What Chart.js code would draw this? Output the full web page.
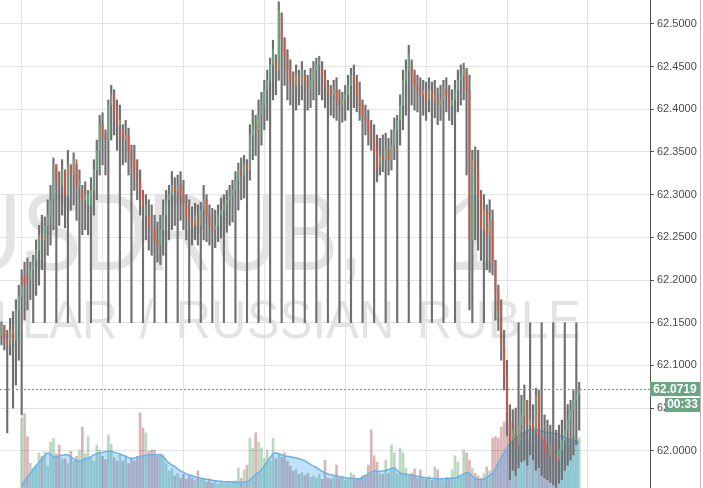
<!DOCTYPE html>
<html>
<head>
<meta charset="utf-8">
<title>USDRUB, 1</title>
<script src="https://cdn.jsdelivr.net/npm/chart.js@4.4.1/dist/chart.umd.min.js"></script>
<style>
    html, body { margin: 0; padding: 0; background: #ffffff; }
    #wrap { position: relative; width: 703px; height: 488px; overflow: hidden; }
</style>
</head>
<body>
<div id="wrap"><canvas id="chart" width="703" height="488"></canvas></div>
<script>
// --- data (1 minute candles, USDRUB) ---
const highs = [
    62.151,62.147,62.141,62.155,62.163,62.177,62.194,62.212,62.221,62.226,
    62.221,62.229,62.247,62.264,62.276,62.274,62.294,62.311,62.343,62.335,
    62.327,62.341,62.329,62.352,62.335,62.349,62.335,62.329,62.311,62.315,
    62.305,62.320,62.341,62.364,62.393,62.396,62.376,62.411,62.428,62.423,
    62.411,62.405,62.382,62.387,62.378,62.358,62.358,62.341,62.329,62.305,
    62.300,62.294,62.288,62.276,62.268,62.276,62.294,62.305,62.311,62.327,
    62.320,62.323,62.327,62.317,62.300,62.294,62.286,62.290,62.288,62.291,
    62.311,62.300,62.288,62.284,62.282,62.288,62.296,62.300,62.305,62.311,
    62.317,62.327,62.337,62.343,62.346,62.341,62.382,62.399,62.393,62.411,
    62.420,62.434,62.446,62.460,62.481,62.464,62.526,62.513,62.484,62.470,
    62.458,62.444,62.452,62.446,62.456,62.446,62.440,62.448,62.456,62.460,
    62.462,62.456,62.446,62.434,62.428,62.434,62.437,62.423,62.420,62.428,
    62.440,62.448,62.452,62.440,62.432,62.411,62.405,62.399,62.387,62.382,
    62.370,62.366,62.370,62.372,62.366,62.376,62.390,62.393,62.417,62.446,
    62.458,62.475,62.458,62.446,62.440,62.437,62.434,62.432,62.437,62.432,
    62.434,62.425,62.428,62.434,62.437,62.428,62.423,62.434,62.446,62.452,
    62.454,62.448,62.440,62.352,62.356,62.352,62.305,62.300,62.288,62.294,
    62.282,62.223,62.194,62.177,62.141,62.106,62.054,62.048,62.050,62.150,
    62.065,62.077,62.059,62.150,62.054,62.073,62.071,62.150,62.042,62.036,
    62.030,62.150,62.024,62.030,62.036,62.150,62.054,62.059,62.071,62.150,
    62.080
];
const lows = [
    62.124,62.118,62.021,62.112,62.050,62.077,62.106,62.042,62.153,62.165,
    62.177,62.150,62.182,62.194,62.212,62.150,62.229,62.241,62.259,62.150,
    62.264,62.276,62.261,62.150,62.282,62.288,62.270,62.150,62.253,62.259,
    62.253,62.150,62.276,62.294,62.323,62.335,62.323,62.150,62.364,62.370,
    62.352,62.150,62.335,62.338,62.323,62.150,62.305,62.294,62.276,62.150,
    62.247,62.235,62.229,62.150,62.221,62.218,62.229,62.150,62.247,62.259,
    62.264,62.150,62.270,62.259,62.247,62.150,62.241,62.247,62.241,62.150,
    62.247,62.245,62.241,62.150,62.238,62.245,62.249,62.150,62.256,62.264,
    62.268,62.150,62.282,62.294,62.296,62.150,62.317,62.341,62.346,62.150,
    62.358,62.376,62.387,62.150,62.411,62.417,62.434,62.150,62.428,62.411,
    62.405,62.150,62.399,62.405,62.411,62.150,62.399,62.402,62.411,62.150,
    62.417,62.411,62.402,62.150,62.393,62.390,62.387,62.150,62.385,62.387,
    62.399,62.150,62.402,62.397,62.387,62.150,62.370,62.358,62.352,62.150,
    62.315,62.323,62.327,62.150,62.323,62.329,62.341,62.150,62.358,62.376,
    62.393,62.150,62.405,62.399,62.397,62.150,62.393,62.387,62.397,62.150,
    62.390,62.382,62.387,62.150,62.397,62.387,62.382,62.150,62.397,62.405,
    62.411,62.323,62.165,62.150,62.247,62.235,62.223,62.150,62.212,62.209,
    62.206,62.153,62.141,62.106,62.071,62.018,61.966,61.977,61.971,61.980,
    61.987,61.989,61.983,61.995,61.989,61.977,61.980,61.971,61.968,61.966,
    61.963,61.960,61.957,61.962,61.966,61.977,61.983,61.989,61.995,62.007,
    62.024
];
const opens = [
    62.136,62.147,62.130,62.124,62.141,62.130,62.165,62.182,62.206,62.206,
    62.200,62.212,62.223,62.235,62.253,62.247,62.264,62.276,62.294,62.335,
    62.317,62.311,62.329,62.300,62.335,62.323,62.341,62.311,62.305,62.294,
    62.288,62.288,62.305,62.329,62.352,62.382,62.370,62.364,62.405,62.417,
    62.399,62.382,62.376,62.364,62.370,62.352,62.341,62.329,62.317,62.300,
    62.276,62.276,62.264,62.259,62.247,62.241,62.259,62.276,62.294,62.300,
    62.311,62.305,62.311,62.300,62.288,62.276,62.270,62.264,62.276,62.264,
    62.282,62.294,62.276,62.264,62.259,62.264,62.276,62.282,62.288,62.294,
    62.300,62.305,62.317,62.329,62.323,62.335,62.329,62.370,62.382,62.376,
    62.393,62.405,62.423,62.434,62.452,62.458,62.446,62.511,62.481,62.464,
    62.446,62.434,62.428,62.440,62.428,62.440,62.434,62.423,62.434,62.446,
    62.452,62.446,62.440,62.428,62.423,62.417,62.423,62.411,62.405,62.411,
    62.417,62.428,62.440,62.434,62.417,62.405,62.393,62.387,62.376,62.364,
    62.352,62.335,62.346,62.341,62.352,62.341,62.358,62.376,62.387,62.405,
    62.434,62.446,62.452,62.440,62.428,62.423,62.417,62.423,62.411,62.423,
    62.411,62.417,62.405,62.411,62.423,62.417,62.405,62.411,62.423,62.434,
    62.440,62.446,62.423,62.247,62.341,62.329,62.300,62.259,62.282,62.253,
    62.270,62.223,62.188,62.165,62.124,62.089,62.036,62.012,62.024,62.007,
    62.030,62.042,62.059,62.030,62.036,62.024,62.065,62.018,62.012,62.001,
    61.995,62.007,61.995,61.989,62.001,62.012,62.024,62.036,62.048,62.059,
    62.065
];
const closes = [
    62.147,62.130,62.124,62.141,62.130,62.165,62.182,62.194,62.194,62.200,
    62.212,62.223,62.235,62.253,62.247,62.264,62.276,62.294,62.335,62.317,
    62.311,62.329,62.300,62.335,62.323,62.341,62.311,62.317,62.294,62.300,
    62.300,62.305,62.329,62.352,62.382,62.370,62.364,62.405,62.417,62.399,
    62.382,62.387,62.364,62.370,62.352,62.341,62.329,62.317,62.300,62.288,
    62.288,62.264,62.259,62.247,62.241,62.259,62.276,62.294,62.300,62.311,
    62.305,62.311,62.300,62.288,62.276,62.270,62.264,62.276,62.264,62.282,
    62.294,62.276,62.264,62.259,62.264,62.276,62.282,62.288,62.294,62.300,
    62.305,62.317,62.329,62.323,62.335,62.329,62.370,62.382,62.376,62.393,
    62.405,62.423,62.434,62.452,62.470,62.446,62.516,62.481,62.464,62.446,
    62.434,62.428,62.440,62.428,62.446,62.434,62.423,62.434,62.446,62.452,
    62.458,62.440,62.428,62.423,62.417,62.423,62.411,62.405,62.411,62.417,
    62.428,62.440,62.434,62.417,62.405,62.393,62.387,62.376,62.364,62.352,
    62.329,62.346,62.341,62.352,62.341,62.358,62.376,62.387,62.405,62.434,
    62.446,62.464,62.440,62.428,62.423,62.417,62.423,62.411,62.423,62.411,
    62.417,62.405,62.411,62.423,62.417,62.405,62.411,62.423,62.434,62.440,
    62.446,62.423,62.247,62.341,62.329,62.300,62.259,62.282,62.253,62.270,
    62.223,62.188,62.165,62.124,62.089,62.036,62.012,62.024,62.007,62.030,
    62.042,62.059,62.030,62.036,62.024,62.065,62.018,62.012,62.001,61.995,
    62.007,61.995,61.989,62.001,62.012,62.024,62.036,62.048,62.059,62.065,
    62.0719
];
// volume bars (relative units) and their moving average
const volumes = [
    null,null,null,null,null,null,null,14.3,15.2,10.5,
    5.1,4.1,4.5,7.2,6.5,7.4,4.5,9.4,10.2,7.0,
    8.8,6.0,6.0,5.0,7.5,5.5,6.5,7.8,12.5,7.0,
    10.5,6.0,5.5,8.8,7.8,6.5,5.8,10.9,9.0,6.2,
    5.5,6.8,5.5,6.5,5.0,6.0,5.5,6.5,15.4,12.3,
    11.3,7.5,7.8,7.8,6.5,7.0,6.8,5.0,3.5,4.0,
    2.5,3.0,2.0,2.8,1.8,2.5,2.0,1.5,3.5,1.8,
    1.8,1.2,1.9,1.0,1.5,0.8,1.2,0.9,1.4,1.0,
    1.3,1.5,4.1,2.0,3.7,4.7,10.2,8.2,11.3,9.4,
    8.2,6.0,7.8,5.5,10.2,6.0,7.0,6.3,7.2,5.5,
    4.5,3.5,3.8,2.8,3.2,2.5,3.0,2.2,2.5,2.0,
    2.8,1.8,5.7,2.0,1.8,2.2,4.7,2.0,2.5,1.6,
    1.8,3.1,2.6,2.0,1.8,2.5,2.5,4.7,11.9,6.6,
    5.3,3.0,2.8,5.7,3.0,8.8,7.2,3.0,8.2,7.2,
    4.0,2.5,3.0,3.9,2.0,3.7,2.2,1.8,2.5,1.6,
    4.3,3.7,2.0,1.5,2.2,1.8,3.7,6.6,5.3,2.5,
    7.8,7.2,5.7,4.0,3.0,2.5,2.0,3.0,4.3,3.5,
    10.2,10.5,10.2,12.5,13.5,15.4,13.0,13.9,11.0,10.5,
    9.5,11.5,10.0,9.0,10.8,12.5,11.0,9.5,10.0,9.0,
    10.5,9.8,10.0,8.5,9.5,9.0,10.2,9.5,10.5,9.8,
    10.3
];
const volMA = [
    null,null,null,null,null,null,null,0.4,1.4,2.3,
    3.1,3.8,4.6,5.3,6.0,6.6,7.2,6.9,6.4,6.3,
    6.6,6.7,6.8,6.8,6.4,6.0,5.6,5.5,5.7,6.0,
    6.1,6.4,6.8,7.0,7.2,7.3,7.5,7.6,7.5,7.3,
    7.2,7.0,6.7,6.5,6.2,6.1,6.1,6.3,6.5,6.6,
    6.7,6.8,6.8,6.8,6.8,6.8,6.4,5.7,5.1,4.7,
    4.4,3.9,3.5,3.2,2.9,2.7,2.5,2.3,2.1,2.0,
    1.9,1.8,1.7,1.6,1.5,1.4,1.4,1.3,1.3,1.3,
    1.3,1.2,1.2,1.2,1.2,1.3,1.7,2.2,2.8,3.2,
    3.7,4.5,5.4,6.2,7.0,7.2,7.0,6.8,6.6,6.5,
    6.4,6.3,6.2,6.0,5.8,5.6,5.2,4.8,4.5,4.2,
    3.8,3.4,3.1,2.9,2.7,2.6,2.5,2.3,2.2,2.1,
    2.0,2.0,1.9,1.9,1.9,2.2,2.6,2.9,3.3,3.5,
    3.5,3.4,3.5,3.6,3.8,4.0,4.1,3.6,3.1,2.9,
    2.8,2.7,2.6,2.5,2.4,2.3,2.2,2.1,2.0,2.0,
    1.9,1.9,1.9,1.9,1.9,2.0,2.0,2.0,2.3,2.6,
    2.9,3.1,3.0,2.4,1.9,1.8,1.7,1.8,2.2,2.6,
    3.1,4.0,5.2,6.2,7.3,8.2,9.0,9.6,10.2,10.7,
    11.1,11.4,11.7,11.9,12.0,12.0,11.9,11.7,11.5,11.4,
    11.3,11.2,11.1,10.9,10.6,10.3,10.1,9.9,9.8,9.6,
    9.5
];
const priceTicks = [62.0, 62.05, 62.1, 62.15, 62.2, 62.25, 62.3, 62.35, 62.4, 62.45, 62.5];
const SLOTS = 225;               // visible bar slots (empty ones on the right)
const Y_MIN = 61.9563, Y_MAX = 62.5281;
const TITLE = 'USDRUB, 1';
const SUBTITLE = 'U.S. DOLLAR / RUSSIAN RUBLE';
const COUNTDOWN = '00:33';

// colours
const GREEN = '#6ba583';
const RED = '#d75442';
const WICK = '#707070';
const GRID = '#e3e3e3';
const FONT = '"Liberation Sans", Arial, sans-serif';

const labels = Array.from({ length: SLOTS }, (_, i) => String(i));
const isUp = closes.map((c, i) => c >= opens[i]);

// big faded symbol name behind the candles
const watermark = {
    id: 'watermark',
    beforeDraw(chart) {
        const { ctx, chartArea } = chart;
        ctx.save();
        ctx.beginPath();
        ctx.rect(chartArea.left, chartArea.top, chartArea.right - chartArea.left, chartArea.bottom - chartArea.top);
        ctx.clip();
        ctx.fillStyle = 'rgba(0,0,0,0.11)';
        ctx.textAlign = 'right';
        ctx.textBaseline = 'alphabetic';

        // TV watermark font is narrower than Arial but has wider spaces
        ctx.save();
        ctx.translate(497, 270);
        ctx.scale(0.83, 1);
        ctx.font = '109px ' + FONT;
        ctx.wordSpacing = '70px';
        ctx.fillText(TITLE, 0, 0);
        ctx.restore();

        ctx.save();
        ctx.translate(581, 338);
        ctx.scale(0.93, 1);
        ctx.font = '53px ' + FONT;
        ctx.wordSpacing = '9px';
        ctx.fillText(SUBTITLE, 0, 0);
        ctx.restore();
        ctx.restore();
    }
};

// last price line + labels on the price scale
const lastPrice = {
    id: 'lastPrice',
    afterDraw(chart) {
        const { ctx, chartArea, scales } = chart;
        const last = closes[closes.length - 1];
        const y = Math.round(scales.y.getPixelForValue(last)) + 0.5;
        ctx.save();
        ctx.strokeStyle = GREEN;
        ctx.lineWidth = 1;
        ctx.setLineDash([2, 2]);
        ctx.beginPath();
        ctx.moveTo(chartArea.left, y);
        ctx.lineTo(chartArea.right, y);
        ctx.stroke();
        ctx.setLineDash([]);

        const x0 = chartArea.right;
        ctx.fillStyle = GREEN;
        ctx.fillRect(x0, y - 7.5, 50, 14);
        ctx.fillRect(x0 + 15, y + 8.5, 35, 14);
        ctx.fillStyle = '#ffffff';
        ctx.font = 'bold 12px ' + FONT;
        ctx.textAlign = 'center';
        ctx.textBaseline = 'middle';
        ctx.fillText(last.toFixed(4), x0 + 25, y);
        ctx.fillText(COUNTDOWN, x0 + 32.5, y + 15.5);

        // right border of the price scale
        ctx.strokeStyle = '#b5b5b5';
        ctx.beginPath();
        ctx.moveTo(700.5, 0);
        ctx.lineTo(700.5, chart.height);
        ctx.stroke();
        ctx.restore();
    }
};

new Chart(document.getElementById('chart'), {
    type: 'bar',
    data: {
        labels: labels,
        datasets: [
            {
                label: 'body',
                data: opens.map((o, i) => [o, closes[i]]),
                backgroundColor: isUp.map(u => u ? GREEN : RED),
                barThickness: 1,
                grouped: false,
                order: 0,
                yAxisID: 'y'
            },
            {
                label: 'range',
                data: lows.map((l, i) => [l, highs[i]]),
                backgroundColor: WICK,
                barThickness: 1.5,
                grouped: false,
                order: 1,
                yAxisID: 'y'
            },
            {
                type: 'line',
                label: 'Volume MA',
                data: volMA,
                yAxisID: 'v',
                borderColor: '#62b4ef',
                borderWidth: 1.5,
                backgroundColor: 'rgba(33,150,243,0.28)',
                fill: 'origin',
                pointRadius: 0,
                tension: 0.3,
                order: 2
            },
            {
                label: 'Volume',
                data: volumes,
                yAxisID: 'v',
                backgroundColor: isUp.map(u => u ? 'rgba(60,150,80,0.36)' : 'rgba(160,60,60,0.38)'),
                barThickness: 2,
                grouped: false,
                order: 3
            }
        ]
    },
    options: {
        responsive: false,
        animation: false,
        devicePixelRatio: 1,
        layout: { padding: 0 },
        plugins: {
            legend: { display: false },
            tooltip: { enabled: false }
        },
        scales: {
            x: {
                offset: true,
                border: { display: false },
                grid: {
                    offset: false,
                    drawTicks: false,
                    color: ctx => (ctx.index % 28 === 7) ? GRID : 'rgba(0,0,0,0)'
                },
                ticks: { display: false, autoSkip: false },
                afterFit: s => { s.height = 0; }
            },
            y: {
                position: 'right',
                min: Y_MIN,
                max: Y_MAX,
                afterBuildTicks: s => { s.ticks = priceTicks.map(v => ({ value: v })); },
                ticks: {
                    color: '#4a4a4a',
                    padding: 3,
                    font: { family: FONT, size: 11 },
                    callback: v => Number(v).toFixed(4)
                },
                grid: { color: GRID, tickLength: 4, tickColor: '#555555' },
                border: { color: '#555555' },
                afterFit: s => { s.width = 53; s.paddingTop = 0; s.paddingBottom = 0; }
            },
            v: {
                display: false,
                min: 0,
                max: 100
            }
        }
    },
    plugins: [watermark, lastPrice]
});
</script>
</body>
</html>
